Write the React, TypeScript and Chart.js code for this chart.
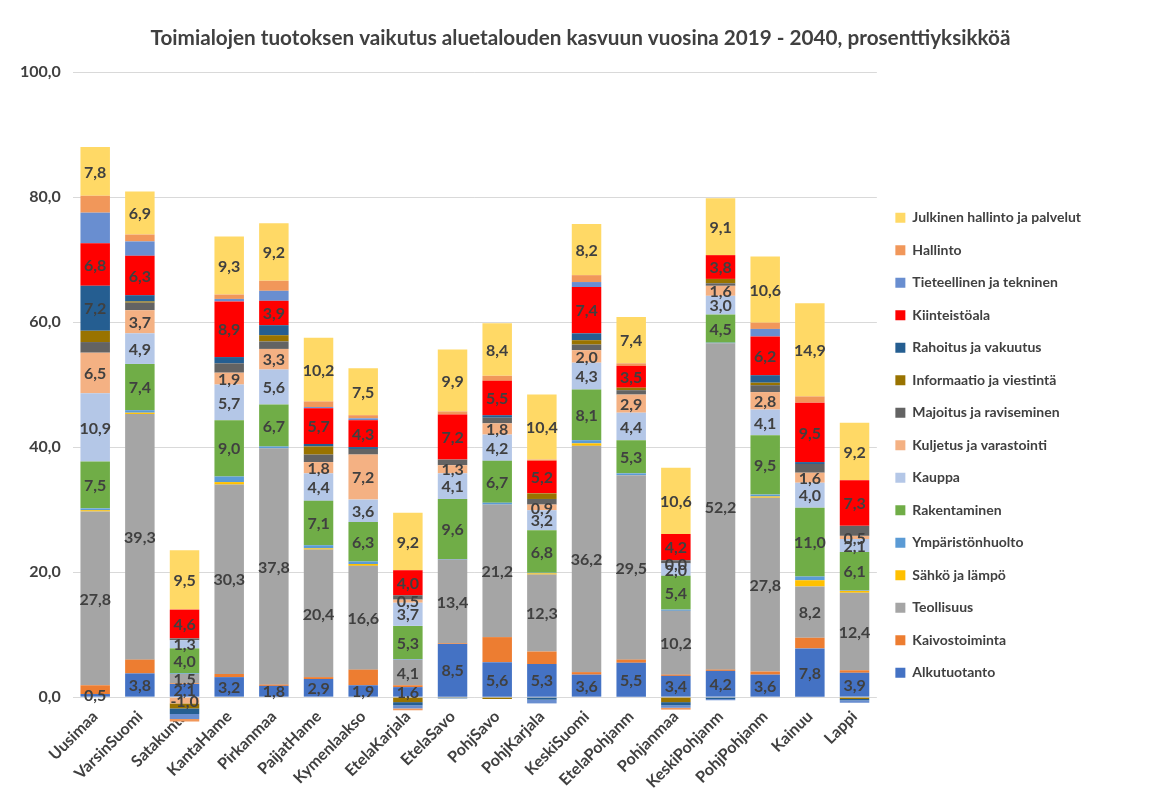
import React, { useEffect, useRef } from "react";
import { Chart, registerables } from "chart.js";

Chart.register(...registerables);

const TITLE = "Toimialojen tuotoksen vaikutus aluetalouden kasvuun vuosina 2019 - 2040, prosenttiyksikköä";

const categories = [
  "Uusimaa", "VarsinSuomi", "Satakunta", "KantaHame", "Pirkanmaa", "PaijatHame",
  "Kymenlaakso", "EtelaKarjala", "EtelaSavo", "PohjSavo", "PohjKarjala", "KeskiSuomi",
  "EtelaPohjanm", "Pohjanmaa", "KeskiPohjanm", "PohjPohjanm", "Kainuu", "Lappi",
];

const alkutuotanto = [0.5, 3.8, 2.1, 3.2, 1.8, 2.9, 1.9, 1.6, 8.5, 5.6, 5.3, 3.6, 5.5, 3.4, 4.2, 3.6, 7.8, 3.9];
const kaivostoiminta = [1.4, 2.2, 0.1, 0.5, 0.2, 0.3, 2.5, 0.3, 0.1, 4.0, 2.0, 0.4, 0.5, 0.2, 0.2, 0.5, 1.7, 0.4];
const teollisuus = [27.8, 39.3, 1.5, 30.3, 37.8, 20.4, 16.6, 4.1, 13.4, 21.2, 12.3, 36.2, 29.5, 10.2, 52.2, 27.8, 8.2, 12.4];
const sahko = [0.2, 0.2, 0.0, 0.4, 0.0, 0.2, 0.3, 0.0, 0.0, 0.0, 0.2, 0.4, 0.0, 0.0, 0.0, 0.2, 1.0, 0.3];
const ymparisto = [0.3, 0.4, 0.1, 0.9, 0.3, 0.5, 0.4, 0.1, 0.1, 0.3, 0.1, 0.5, 0.3, 0.2, 0.1, 0.3, 0.6, 0.1];
const rakentaminen = [7.5, 7.4, 4.0, 9.0, 6.7, 7.1, 6.3, 5.3, 9.6, 6.7, 6.8, 8.1, 5.3, 5.4, 4.5, 9.5, 11.0, 6.1];
const kauppa = [10.9, 4.9, 1.3, 5.7, 5.6, 4.4, 3.6, 3.7, 4.1, 4.2, 3.2, 4.3, 4.4, 2.0, 3.0, 4.1, 4.0, 2.1];
const kuljetus = [6.5, 3.7, -1.0, 1.9, 3.3, 1.8, 7.2, 0.5, 1.3, 1.8, 0.9, 2.0, 2.9, 0.0, 1.6, 2.8, 1.6, 0.5];
const majoitus = [1.7, 1.2, 0.3, 1.5, 1.2, 1.2, 0.9, 0.7, 0.9, 0.9, 0.9, 0.9, 0.7, 0.5, 0.4, 1.1, 1.4, 1.6];
const informaatio = [1.8, 0.2, -0.8, -0.1, 1.0, 1.3, 0.0, -0.8, -0.1, -0.3, 0.9, 0.7, 0.4, -0.8, 0.7, 0.4, 0.0, -0.3];
const rahoitus = [7.2, 1.0, -0.9, 1.0, 1.6, 0.4, 0.3, -0.5, -0.1, 0.4, -0.4, 1.1, 0.0, -0.5, -0.3, 1.2, 0.3, -0.2];
const kiinteisto = [6.8, 6.3, 4.6, 8.9, 3.9, 5.7, 4.3, 4.0, 7.2, 5.5, 5.2, 7.4, 3.5, 4.2, 3.8, 6.2, 9.5, 7.3];
const tieteellinen = [4.9, 2.3, -0.8, 0.4, 1.6, 0.2, 0.3, -0.5, 0.0, 0.0, -0.6, 0.8, 0.0, -0.4, -0.2, 1.2, 0.0, -0.4];
const hallinto = [2.7, 1.1, -0.4, 0.7, 1.6, 0.9, 0.5, -0.3, 0.5, 0.8, 0.2, 1.1, 0.4, -0.3, 0.0, 1.0, 1.0, 0.0];
const julkinen = [7.8, 6.9, 9.5, 9.3, 9.2, 10.2, 7.5, 9.2, 9.9, 8.4, 10.4, 8.2, 7.4, 10.6, 9.1, 10.6, 14.9, 9.2];

const yTicks = [0, 20, 40, 60, 80, 100];

// series listed bottom-first (stack order)
const seriesNames = [
  "Alkutuotanto", "Kaivostoiminta", "Teollisuus", "Sähkö ja lämpö", "Ympäristönhuolto",
  "Rakentaminen", "Kauppa", "Kuljetus ja varastointi", "Majoitus ja raviseminen",
  "Informaatio ja viestintä", "Rahoitus ja vakuutus", "Kiinteistöala",
  "Tieteellinen ja tekninen", "Hallinto", "Julkinen hallinto ja palvelut",
];
const seriesValues = [
  alkutuotanto, kaivostoiminta, teollisuus, sahko, ymparisto, rakentaminen, kauppa,
  kuljetus, majoitus, informaatio, rahoitus, kiinteisto, tieteellinen, hallinto, julkinen,
];
const seriesColors = [
  "#4472C4", "#ED7D31", "#A5A5A5", "#FFC000", "#5B9BD5", "#70AD47", "#B4C7E7",
  "#F4B183", "#636363", "#997300", "#255E91", "#FF0000", "#698ED0", "#F1975A", "#FFD966",
];
// series whose every segment carries a value label
const labeledSeries = [0, 2, 5, 6, 7, 11, 14];

const FONT = "Lato, 'Open Sans', sans-serif";
const TEXT = "#404040";

const fmt = (v: number) => v.toFixed(1).replace(".", ",");

const showLabel = (di: number, v: number) =>
  labeledSeries.includes(di) || Math.abs(v) >= 6;

const labelPlugin = {
  id: "segLabels",
  afterDatasetsDraw(chart: any) {
    const ctx = chart.ctx;
    ctx.save();
    ctx.font = `bold 16px ${FONT}`;
    ctx.fillStyle = TEXT;
    ctx.textAlign = "center";
    ctx.textBaseline = "middle";
    chart.data.datasets.forEach((ds: any, di: number) => {
      const meta = chart.getDatasetMeta(di);
      if (meta.hidden) return;
      meta.data.forEach((el: any, i: number) => {
        const v = ds.data[i];
        if (v === null || v === undefined || !showLabel(di, v)) return;
        const { x, y, base } = el.getProps(["x", "y", "base"], true);
        ctx.fillText(fmt(v), x, (y + base) / 2 + 1);
      });
    });
    ctx.restore();
  },
};

// chart title, centred on the whole canvas
const titlePlugin = {
  id: "pageTitle",
  afterDraw(chart: any) {
    const ctx = chart.ctx;
    ctx.save();
    ctx.font = `bold 20.7px ${FONT}`;
    ctx.fillStyle = TEXT;
    ctx.textAlign = "center";
    ctx.textBaseline = "middle";
    ctx.fillText(TITLE, chart.width / 2 + 6, 30);
    ctx.restore();
  },
};

export default function App() {
  const ref = useRef<HTMLCanvasElement>(null);
  useEffect(() => {
    if (!ref.current) return;
    const chart = new Chart(ref.current, {
      type: "bar",
      data: {
        labels: categories,
        datasets: seriesNames.map((name, i) => ({
          label: name,
          data: seriesValues[i],
          backgroundColor: seriesColors[i],
          borderWidth: 0,
          categoryPercentage: 0.66,
          barPercentage: 1,
          clip: false as any,
        })),
      },
      options: {
        responsive: false,
        animation: false,
        devicePixelRatio: 1,
        layout: { padding: { left: 0, right: 50, top: 64, bottom: 0 } },
        plugins: {
          title: { display: false },
          legend: {
            position: "right",
            reverse: true,
            title: {
              display: true,
              text: "",
              font: { size: 12 },
              padding: { top: 10, bottom: 0 },
            },
            labels: {
              boxWidth: 10,
              boxHeight: 10,
              padding: 18.5,
              color: TEXT,
              font: { family: FONT, size: 14, weight: "bold" },
            },
          },
          tooltip: { enabled: false },
        },
        scales: {
          x: {
            stacked: true,
            grid: { display: false },
            border: { display: false },
            ticks: {
              autoSkip: false,
              minRotation: 45,
              maxRotation: 45,
              color: TEXT,
              padding: 2,
              font: { family: FONT, size: 16, weight: "bold" },
            },
          },
          y: {
            stacked: true,
            min: 0,
            max: 100,
            afterBuildTicks: (scale: any) => {
              scale.ticks = yTicks.map((v) => ({ value: v }));
            },
            grid: { color: "#d9d9d9", drawTicks: false },
            border: { display: false },
            ticks: {
              color: TEXT,
              padding: 12,
              font: { family: FONT, size: 16, weight: "bold" },
              callback: (v: any) => fmt(Number(v)),
            },
          },
        },
      },
      plugins: [labelPlugin, titlePlugin],
    });
    return () => chart.destroy();
  }, []);
  return (
    <div style={{ width: 1133, height: 786 }}>
      <canvas ref={ref} width={1133} height={786} />
    </div>
  );
}
